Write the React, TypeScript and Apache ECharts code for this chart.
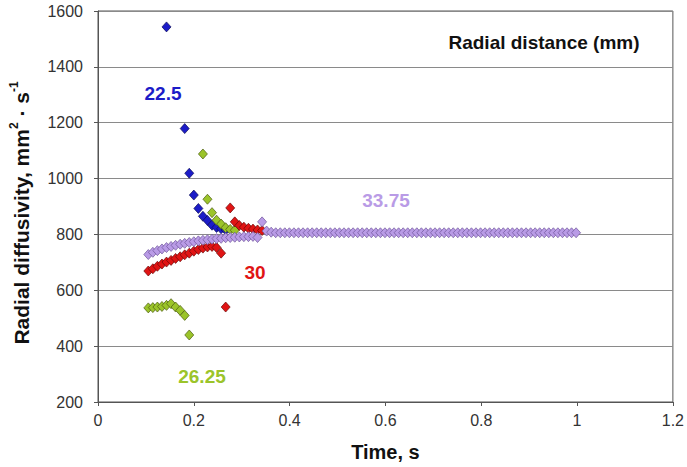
import React, { useEffect, useRef } from "react";
import * as echarts from "echarts";

// Sample times (s)
const times = [
  0.105, 0.1145, 0.124, 0.1335, 0.143, 0.1525, 0.162, 0.1715, 0.181, 0.1905,
  0.2, 0.2095, 0.219, 0.2285, 0.238, 0.2475, 0.257, 0.2665, 0.276, 0.2855,
  0.295, 0.3045, 0.314, 0.3235, 0.333, 0.3425, 0.352, 0.3615, 0.371, 0.3805,
  0.39, 0.3995, 0.409, 0.4185, 0.428, 0.4375, 0.447, 0.4565, 0.466, 0.4755,
  0.485, 0.4945, 0.504, 0.5135, 0.523, 0.5325, 0.542, 0.5515, 0.561, 0.5705,
  0.58, 0.5895, 0.599, 0.6085, 0.618, 0.6275, 0.637, 0.6465, 0.656, 0.6655,
  0.675, 0.6845, 0.694, 0.7035, 0.713, 0.7225, 0.732, 0.7415, 0.751, 0.7605,
  0.77, 0.7795, 0.789, 0.7985, 0.808, 0.8175, 0.827, 0.8365, 0.846, 0.8555,
  0.865, 0.8745, 0.884, 0.8935, 0.903, 0.9125, 0.922, 0.9315, 0.941, 0.9505,
  0.96, 0.9695, 0.979, 0.9885, 0.998,
];

// Radial diffusivity (mm^2/s) per radial distance
const r22_5 = [
  null, null, null, null, 1543, null, null, null, 1179, 1019,
  941, 893, 865, 850, 833, 825, 820, 816,
];
const r26_25 = [
  537, 538, 540, 542, 546, 552, 540, 528, 510, 440,
  null, null, 1088, 926, 878, 851, 837, 824, 818, 815,
];
const r30 = [
  669, 677, 686, 694, 701, 707, 714, 720, 727, 733,
  740, 746, 751, 755, 757, 753, 733, 540, 895, 845,
  832, 826, 822, 819, 816, 814,
];
const r33_75 = [
  728, 736, 742, 748, 753, 757, 761, 765, 768, 771,
  774, 777, 779, 781, 783, 785, 786, 788, 789, 790,
  791, 792, 792, 793, 789, 845, 812, 808, 806, 806,
  806, 806, 806, 806, 806, 806, 806, 806, 806, 806,
  806, 806, 806, 806, 806, 806, 806, 806, 806, 806,
  806, 806, 806, 806, 806, 806, 806, 806, 806, 806,
  806, 806, 806, 806, 806, 806, 806, 806, 806, 806,
  806, 806, 806, 806, 806, 806, 806, 806, 806, 806,
  806, 806, 806, 806, 806, 806, 806, 806, 806, 806,
  806, 806, 806, 806, 806,
];

const seriesNames = ["22.5", "26.25", "30", "33.75"];
const seriesColors = ["#1c1cc8", "#9bc42a", "#e01414", "#b99be6"];
const seriesBorders = ["#0a0a55", "#4a5a10", "#6a0808", "#6e559a"];

const toPairs = (vals: (number | null)[]) =>
  vals
    .map((v, i) => (v == null ? null : [times[i], v]))
    .filter((p) => p !== null) as number[][];

export default function App() {
  const ref = useRef<HTMLDivElement>(null);
  useEffect(() => {
    if (!ref.current) return;
    const chart = echarts.init(ref.current, undefined, { renderer: "svg" });
    const all = [r22_5, r26_25, r30, r33_75];
    const font = "'Liberation Sans', Arial, sans-serif";
    const seriesLabel = (i: number, x: number, y: number) => ({
      type: "text",
      x,
      y,
      style: {
        text: seriesNames[i],
        font: `bold 19px ${font}`,
        fill: seriesColors[i],
        textAlign: "center",
        textVerticalAlign: "middle",
      },
    });
    chart.setOption({
      animation: false,
      backgroundColor: "#ffffff",
      textStyle: { fontFamily: font },
      grid: {
        left: 98,
        right: 5,
        top: 11,
        bottom: 65,
        show: true,
        borderColor: "#555",
        borderWidth: 1,
      },
      xAxis: {
        type: "value",
        min: 0,
        max: 1.2,
        interval: 0.2,
        name: "Time, s",
        nameLocation: "middle",
        nameGap: 40,
        nameTextStyle: { fontSize: 20, fontWeight: "bold", color: "#111", fontFamily: font },
        axisLine: { lineStyle: { color: "#555" } },
        axisTick: { show: true, length: 4, lineStyle: { color: "#555" } },
        axisLabel: {
          fontSize: 16,
          color: "#333",
          margin: 10,
          fontFamily: font,
          formatter: (v: number) => String(Math.round(v * 10) / 10),
        },
        splitLine: { show: false },
      },
      yAxis: {
        type: "value",
        min: 200,
        max: 1600,
        interval: 200,
        axisLine: { show: true, lineStyle: { color: "#555" } },
        axisTick: { show: true, length: 4, lineStyle: { color: "#555" } },
        axisLabel: {
          fontSize: 16,
          color: "#333",
          margin: 15,
          fontFamily: font,
          formatter: (v: number) => String(v),
        },
        splitLine: { show: true, lineStyle: { color: "#8a8a8a", width: 1 } },
      },
      series: all.map((vals, i) => ({
        name: seriesNames[i],
        type: "scatter",
        symbol: "diamond",
        symbolSize: [9, 10],
        itemStyle: {
          color: seriesColors[i],
          borderColor: seriesBorders[i],
          borderWidth: 0.7,
          opacity: 1,
        },
        data: toPairs(vals),
        z: 2 + i,
      })),
      graphic: [
        {
          type: "text",
          x: 20,
          y: 213,
          rotation: Math.PI / 2,
          style: {
            text: "{m|Radial diffusivity, mm}{s|2}{m| \u00B7 s}{s|-1}",
            textAlign: "center",
            textVerticalAlign: "middle",
            rich: {
              m: { font: `bold 21px ${font}`, fill: "#111", lineHeight: 24, verticalAlign: "bottom" },
              s: { font: `bold 12px ${font}`, fill: "#111", lineHeight: 24, verticalAlign: "top" },
            },
          },
        },
        {
          type: "text",
          x: 544,
          y: 42,
          style: {
            text: "Radial distance (mm)",
            font: `bold 19px ${font}`,
            fill: "#111",
            textAlign: "center",
            textVerticalAlign: "middle",
          },
        },
        seriesLabel(0, 163, 93),
        seriesLabel(1, 202, 376),
        seriesLabel(2, 255, 272),
        seriesLabel(3, 386, 200),
      ],
    });
    return () => chart.dispose();
  }, []);
  return <div ref={ref} style={{ width: 687, height: 467, position: "absolute", left: 0, top: 0 }} />;
}
